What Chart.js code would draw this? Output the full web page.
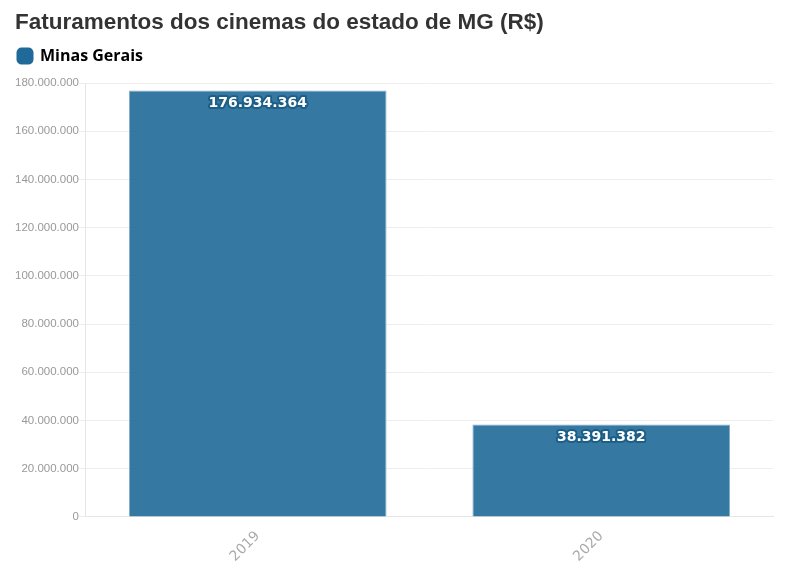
<!DOCTYPE html>
<html>
<head>
<meta charset="utf-8">
<script src="https://cdn.jsdelivr.net/npm/chart.js@4"></script>
<style>
  body { margin: 0; background: #fff; }
  #wrap { width: 800px; height: 580px; }
</style>
</head>
<body>
<div id="wrap"><canvas id="chart" width="800" height="580"></canvas></div>
<script>
const years = ['2019', '2020'];
const revenue = [176934364, 38391382];
const yTicks = [0, 20000000, 40000000, 60000000, 80000000, 100000000, 120000000, 140000000, 160000000, 180000000];

const fmt = v => v.toLocaleString('de-DE');

// value label inside top of each bar, white with dark outline
const barLabels = {
  id: 'barLabels',
  afterDatasetsDraw(chart) {
    const ctx = chart.ctx;
    const meta = chart.getDatasetMeta(0);
    ctx.save();
    ctx.font = 'bold 14px Verdana, "DejaVu Sans", sans-serif';
    ctx.textAlign = 'center';
    ctx.textBaseline = 'middle';
    ctx.lineJoin = 'round';
    meta.data.forEach((bar, i) => {
      const t = fmt(revenue[i]);
      ctx.lineWidth = 4;
      ctx.strokeStyle = '#1d5e87';
      ctx.strokeText(t, bar.x, bar.y + 13);
      ctx.fillStyle = '#ffffff';
      ctx.fillText(t, bar.x, bar.y + 13);
    });
    ctx.restore();
  }
};

// extra space between legend and plot
const legendGap = {
  id: 'legendGap',
  beforeInit(chart) {
    const fit = chart.legend.fit;
    chart.legend.fit = function () {
      fit.bind(chart.legend)();
      this.height += 9;
    };
  }
};

new Chart(document.getElementById('chart').getContext('2d'), {
  type: 'bar',
  data: {
    labels: years,
    datasets: [{
      label: 'Minas Gerais',
      data: revenue,
      backgroundColor: 'rgba(31,106,153,0.9)',
      borderColor: 'rgba(120,165,195,0.9)',
      borderWidth: 1,
      barPercentage: 0.75,
      categoryPercentage: 1.0
    }]
  },
  options: {
    responsive: false,
    animation: false,
    layout: { padding: { left: 15, right: 27, top: 0, bottom: 12 } },
    plugins: {
      title: {
        display: true,
        text: 'Faturamentos dos cinemas do estado de MG (R$)',
        align: 'start',
        color: '#333',
        font: { family: '"Liberation Sans", Arial, sans-serif', size: 22.5, weight: 'bold' },
        padding: { top: 9, bottom: 9 }
      },
      legend: {
        align: 'start',
        labels: {
          padding: 3,
          usePointStyle: true,
          pointStyle: 'rectRounded',
          boxWidth: 14,
          boxHeight: 14,
          color: '#333',
          font: { family: '"Open Sans", sans-serif', size: 16, weight: 'bold' },
          generateLabels: chart => [{
            text: 'Minas Gerais',
            fillStyle: '#1f6a99',
            strokeStyle: '#1f6a99',
            lineWidth: 0,
            pointStyle: 'rectRounded',
            datasetIndex: 0
          }]
        }
      },
      tooltip: { enabled: false }
    },
    scales: {
      x: {
        grid: { display: false, drawTicks: true },
        border: { color: '#e6e6e6' },
        ticks: {
          color: '#aaa',
          font: { family: 'Verdana, "DejaVu Sans", sans-serif', size: 14 },
          maxRotation: 45,
          minRotation: 45
        }
      },
      y: {
        min: 0,
        max: 180000000,
        afterBuildTicks: axis => { axis.ticks = yTicks.map(v => ({ value: v })); },
        grid: { color: '#eeeeee', tickLength: 7 },
        border: { color: '#e6e6e6' },
        ticks: {
          padding: 0,
          color: '#999',
          font: { family: '"Liberation Sans", Arial, sans-serif', size: 11.5 },
          callback: v => fmt(v)
        }
      }
    }
  },
  plugins: [barLabels, legendGap]
});
</script>
</body>
</html>
